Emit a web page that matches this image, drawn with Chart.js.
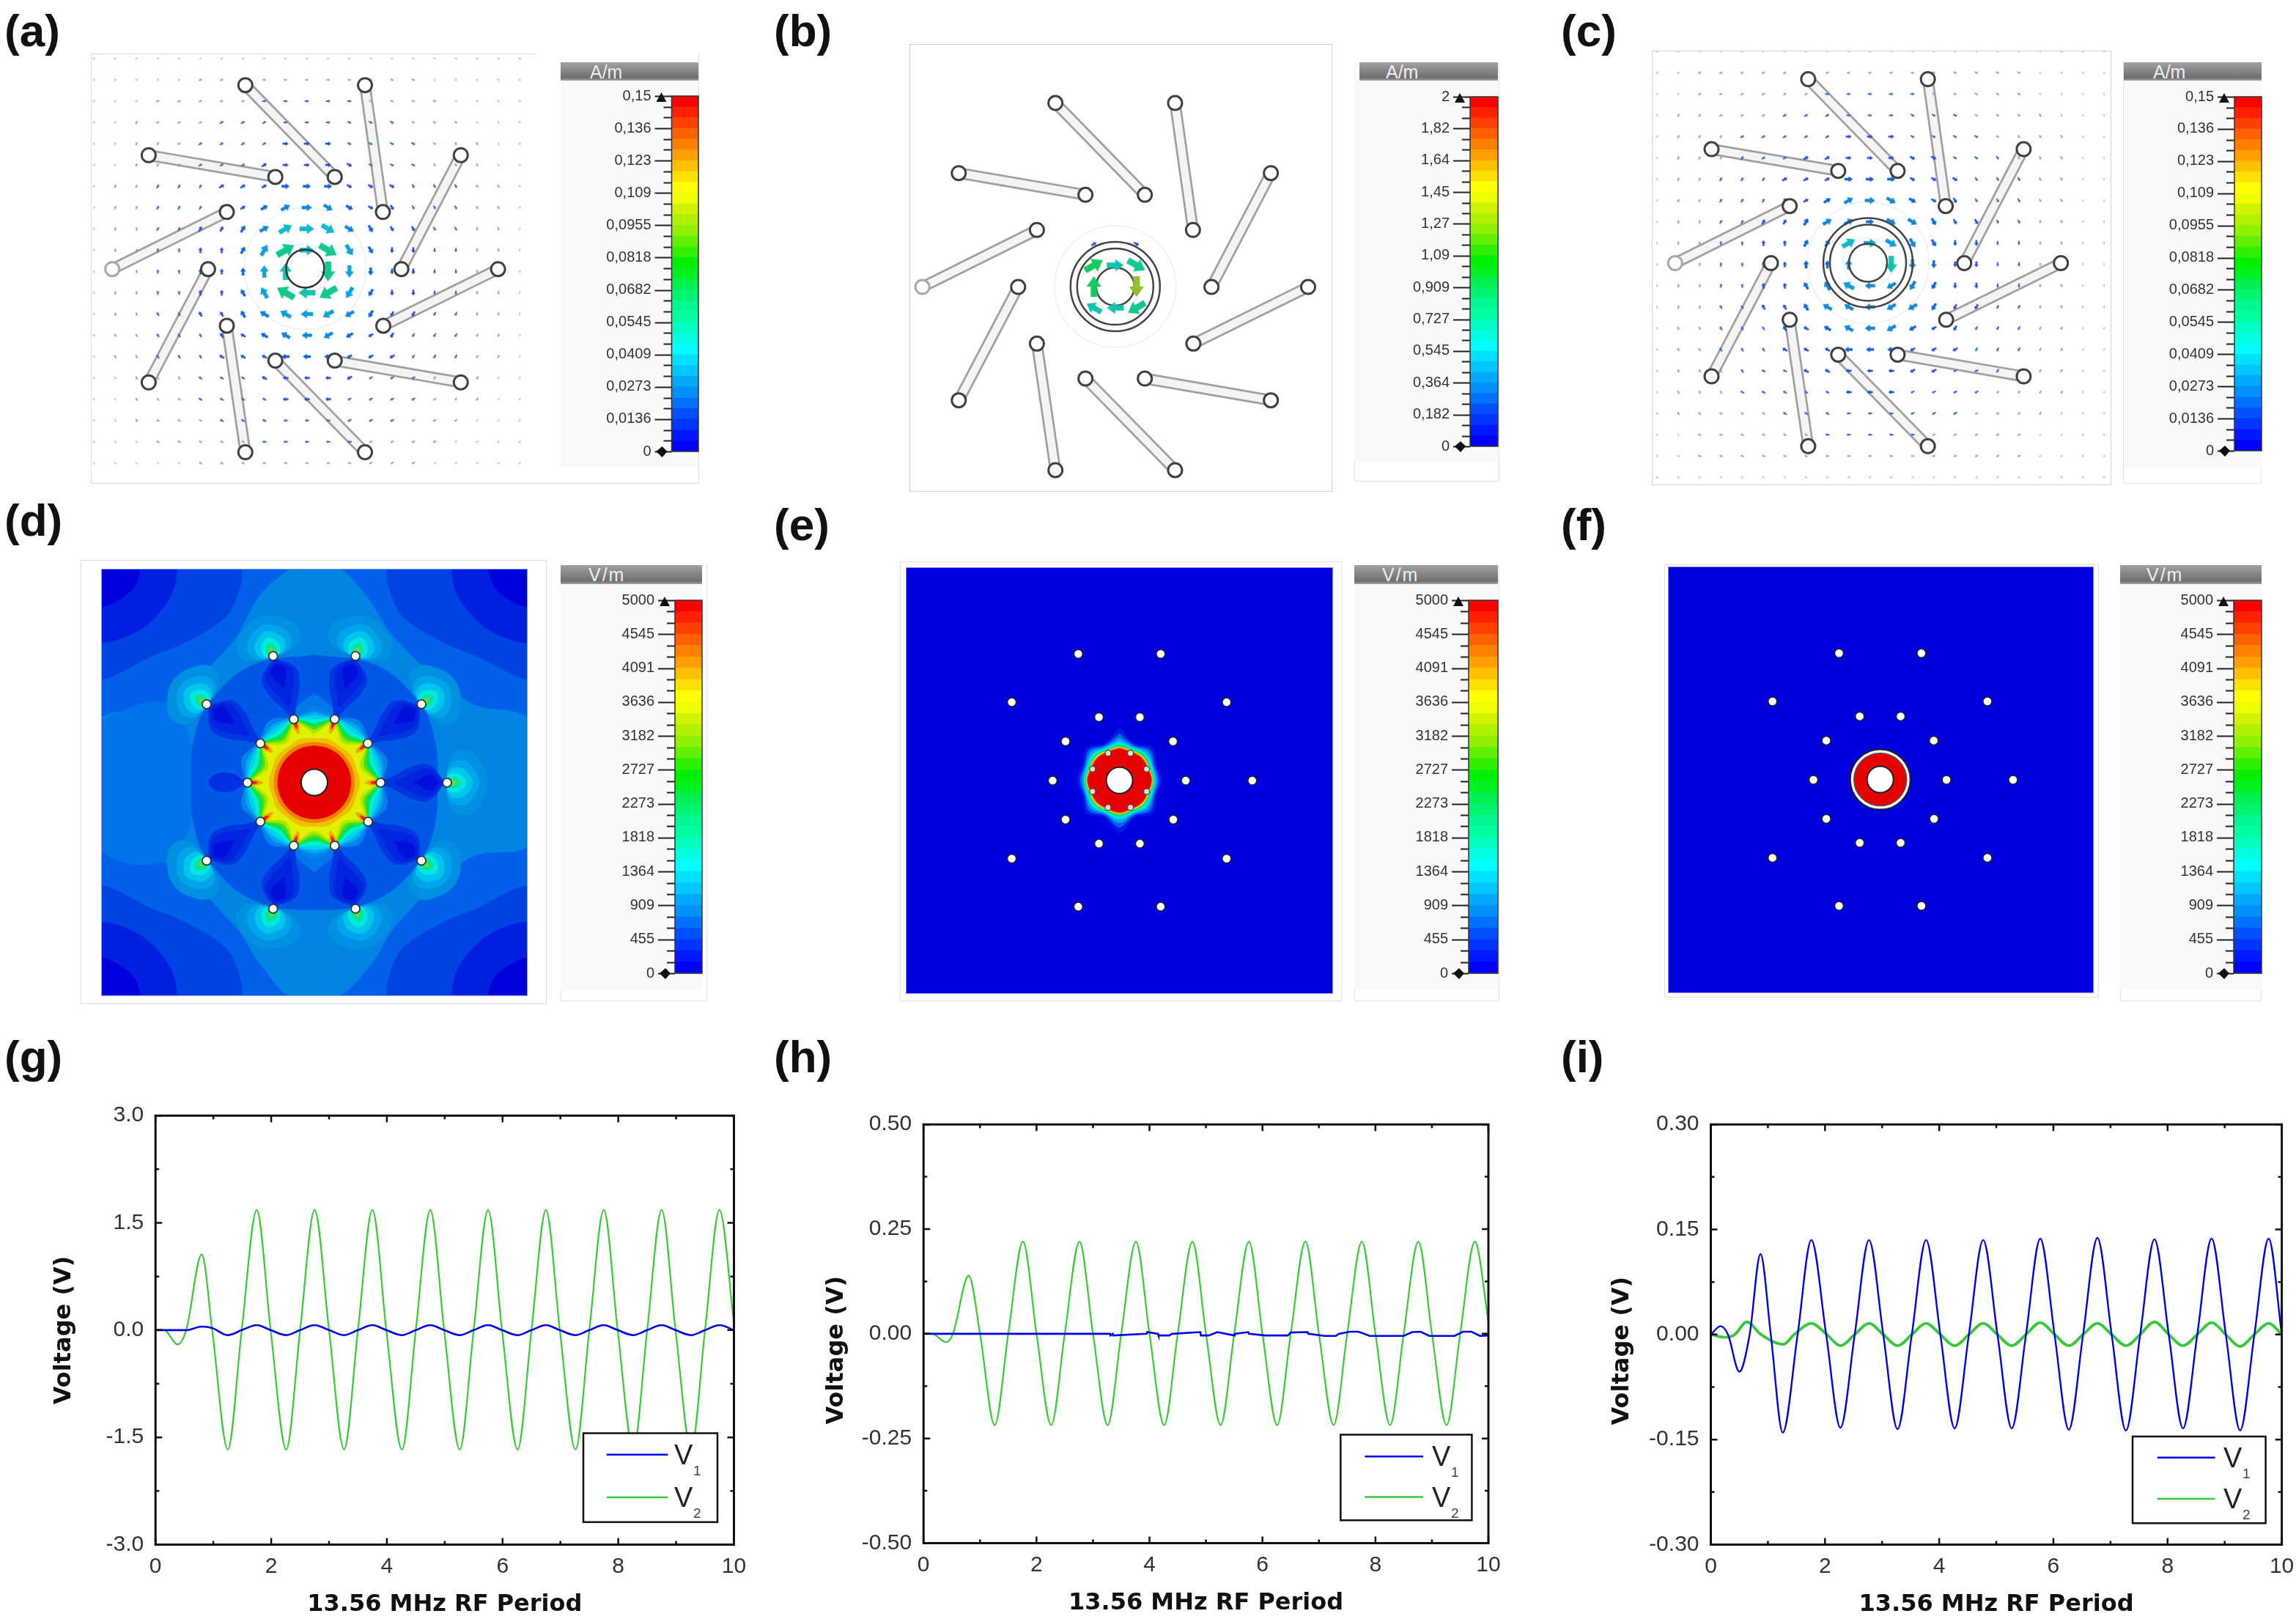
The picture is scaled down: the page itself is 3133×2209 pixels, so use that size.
<!DOCTYPE html>
<html>
<head>
<meta charset="utf-8">
<title>Field maps and voltage traces</title>
<script src="https://cdn.jsdelivr.net/npm/chart.js@4"></script>
<style>
    html, body { margin: 0; background: #fff; overflow: hidden; }
    body { position: relative; width: 3133px; height: 2209px; font-family: "Liberation Sans", Arial, sans-serif; }
    canvas { position: absolute; filter: blur(0.5px); }
    .tag { position: absolute; font: bold 62px "Liberation Sans"; color: #111; line-height: 60px; }
    .box { position: absolute; box-sizing: border-box; }
    .unit { position: absolute; box-sizing: border-box; background: linear-gradient(#a2a2a2, #6e6e6e 85%, #a8a8a8); color: #eee; font-size: 25px; line-height: 25px; }
</style>
</head>
<body>
<script>
// voltage traces
const xG = [0,0.15,0.38,0.53,0.8,0.98,1.25,1.49,1.75,1.99,2.26,2.5,2.75,3,3.26,3.5,3.75,3.99,4.26,4.5,4.75,4.99,5.26,5.5,5.75,5.99,6.26,6.5,6.75,6.99,7.26,7.5,7.75,7.99,8.26,8.5,8.75,8.99,9.26,9.5,9.75,10];
const v1G = [0,0,0,0,0.05,0.03,-0.07,0,0.07,0,-0.07,0,0.07,0,-0.07,0,0.07,0,-0.07,0,0.07,0,-0.07,0,0.07,0,-0.07,0,0.07,0,-0.07,0,0.07,0,-0.07,0,0.07,0,-0.07,0,0.07,0];
const v2G = [0,0,-0.2,0,1.06,0,-1.67,0,1.68,0,-1.67,0,1.68,0,-1.67,0,1.68,0,-1.67,0,1.68,0,-1.67,0,1.68,0,-1.67,0,1.68,0,-1.67,0,1.68,0,-1.67,0,1.68,0,-1.67,0,1.68,0.1];

const xV1H = [0,3.3,3.31,3.35,3.36,3.95,3.96,4.15,4.16,4.35,4.4,4.9,4.91,5.05,5.2,5.5,5.51,5.75,5.76,6.05,6.3,6.45,6.5,6.8,6.81,7.1,7.3,7.35,7.55,7.7,7.9,8.1,8.3,8.5,8.65,8.8,8.95,9.2,9.4,9.55,9.7,9.85,10];
const v1H = [0,0,-0.004,0,-0.004,0,0.004,0,-0.004,-0.004,0,0.004,-0.004,-0.004,0.004,-0.004,0,0.004,0,-0.004,-0.004,-0.004,0.003,0.004,0,-0.005,-0.005,0,0.005,0.005,-0.005,-0.005,-0.005,-0.005,0.004,0.005,-0.005,-0.005,-0.005,0.005,0.005,-0.005,-0.004];
const xV2H = [0,0.15,0.4,0.52,0.8,1,1.26,1.5,1.76,2,2.26,2.5,2.76,3,3.26,3.5,3.76,4,4.26,4.5,4.76,5,5.26,5.5,5.76,6,6.26,6.5,6.76,7,7.26,7.5,7.76,8,8.26,8.5,8.76,9,9.26,9.5,9.76,10];
const v2H = [0,0,-0.02,0,0.139,0,-0.218,0,0.22,0,-0.218,0,0.22,0,-0.218,0,0.22,0,-0.218,0,0.22,0,-0.218,0,0.22,0,-0.218,0,0.22,0,-0.218,0,0.22,0,-0.218,0,0.22,0,-0.218,0,0.22,0.03];

const xV1I = [0,0.17,0.3,0.5,0.68,0.87,1.05,1.26,1.52,1.76,2.02,2.27,2.52,2.77,3.02,3.27,3.52,3.77,4.02,4.27,4.52,4.77,5.02,5.27,5.52,5.77,6.02,6.27,6.52,6.77,7.02,7.27,7.52,7.77,8.02,8.27,8.52,8.77,9.02,9.27,9.52,9.77,10];
const v1I = [0,0.012,0,-0.053,0,0.115,0,-0.14,0,0.135,0,-0.133,0,0.135,0,-0.135,0,0.135,0,-0.134,0,0.135,0,-0.134,0,0.137,0,-0.136,0,0.138,0,-0.137,0,0.136,0,-0.134,0,0.137,0,-0.137,0,0.137,0];
const xV2I = [0,0.25,0.42,0.63,0.88,1.27,1.46,1.76,2.03,2.27,2.52,2.77,3.02,3.27,3.52,3.77,4.02,4.27,4.52,4.77,5.02,5.27,5.52,5.77,6.02,6.27,6.52,6.77,7.02,7.27,7.52,7.77,8.02,8.27,8.52,8.77,9.02,9.27,9.52,9.77,10];
const v2I = [0,-0.004,0,0.018,0,-0.014,0,0.016,0,-0.016,0,0.016,0,-0.016,0,0.016,0,-0.016,0,0.016,0,-0.016,0,0.017,0,-0.016,0,0.016,0,-0.016,0,0.018,0,-0.016,0,0.017,0,-0.017,0,0.016,0];

// axis ticks of the voltage plots
const xTicks = [0,1,2,3,4,5,6,7,8,9,10];
const xTickLabels = ['0','','2','','4','','6','','8','','10'];
const yTicksG = [-3,-2.25,-1.5,-0.75,0,0.75,1.5,2.25,3];
const yLabelsG = ['-3.0','','-1.5','','0.0','','1.5','','3.0'];
const yTicksH = [-0.5,-0.375,-0.25,-0.125,0,0.125,0.25,0.375,0.5];
const yLabelsH = ['-0.50','','-0.25','','0.00','','0.25','','0.50'];
const yTicksI = [-0.3,-0.225,-0.15,-0.075,0,0.075,0.15,0.225,0.3];
const yLabelsI = ['-0.30','','-0.15','','0.00','','0.15','','0.30'];

// colour scale labels and bands
const scaleLabelsA = ['0','0,0136','0,0273','0,0409','0,0545','0,0682','0,0818','0,0955','0,109','0,123','0,136','0,15'];
const scaleLabelsB = ['0','0,182','0,364','0,545','0,727','0,909','1,09','1,27','1,45','1,64','1,82','2'];
const scaleLabelsE = ['0','455','909','1364','1818','2273','2727','3182','3636','4091','4545','5000'];
const bandColors = ['#0000ff','#0018ff','#0034ff','#0050ff','#0070ff','#0090ff','#00a8ff','#00c8ff','#00e0ff','#00ffff','#00ffe0','#00ffc0','#00ffa0','#00f890','#00f470','#00f050','#00f020','#00f000','#30f000','#60f000','#90f000','#b0f000','#d0f400','#f0ff00','#ffff00','#ffe000','#ffc000','#ffa000','#ff8000','#ff6000','#ff4000','#ff2000','#ff0000'];

// rod ends, in grid cells from the coil centre
const rodOuterX = [-2.81,2.81,7.31,9.06,7.31,2.81,-2.81,-7.35,-9.06,-7.35];
const rodOuterY = [-8.62,-8.62,-5.33,0.02,5.34,8.62,8.62,5.34,0.02,-5.33];
const rodInnerX = [1.39,3.65,4.52,3.67,1.39,-1.4,-3.68,-4.56,-3.68,-1.4];
const rodInnerY = [-4.31,-2.66,0.02,2.68,4.32,4.32,2.68,0.02,-2.66,-4.31];
const pinX = [-0.78,0.75,1.85,1.85,0.75,-0.78,-1.84,-1.84];
const pinY = [-1.85,-1.85,-0.77,0.76,1.85,1.85,0.76,-0.77];

// arrow directions in 30 degree steps (base 12), one char per grid point
const arrowDirs = [
    '2222222233333444444445','1222222233333444444455','1122222233333444444555','1112222223334444445555',
    '1111222223334444455555','1111122223334444555555','1111112223334445555555','1111111222344455555555',
    '0001111122344555556666','0000000112345566666666','0000000000366666666666','0000000bba987766666666',
    '000bbbbbaa988777776666','bbbbbbbaaa988877777777','bbbbbbaaa99988877777777','bbbbbaaaa99988887777777',
    'bbbbaaaaa99988888777777','bbbaaaaaa99988888877777','bbaaaaaa999998888887777','baaaaaaa999998888888777',
    'aaaaaaaa99999888888888'
];
// arrow strength levels (base 12), '-' where the electrode hides the point
const arrowLevelsA = [
    '000000000000000000000','000001111111111100000','000111112222211110000','001111222222222111000',
    '001112222333222211100','001112223333322211100','011222333444333222110','011222334555433222110',
    '011223345777543322110','011223346979643322110','0112233468-9643322110','011223346989643322110',
    '011223345666543322110','011222334555433222110','011222333444333222110','001112223333322211100',
    '001112222333222211100','001111222222222111000','000111112222211110000','000001111111111100000'
];
const arrowLevelsC = [
    '0000000000000000000000','0011111111111111110000','0011111122222111110000','0111112222222221111000',
    '0111222223332222111100','0111222333333322211100','0112223334443332221100','0112223345554332221100',
    '0112233455455433221100','0112233447665433221100','0112233445-85433221100','0112233456555433221100',
    '0112233455555433221100','0112223345554332221100','0112223334443332221100','0111222333333322211100',
    '0111222223332222111100','0111112222222221111000','0011111122222111110000','0011111111111111110000',
    '0000000000000000000000'
];
const arrowXB = [-1,0,1,1,1,0,-1,-1,-1,1];
const arrowYB = [-1,-1,-1,0,1,1,1,0,-2,-2];
const arrowDirB = [2,3,4,6,8,9,10,0,2,4];
const arrowLevelB = [10,8,9,11,9,8,8,10,3,3];

const arrowLength = [4,5,6,8,11,14,17,20,23,27,28,28];
const arrowColor = ['#a4b8f0','#7b96ea','#3a62e0','#1c4cdc','#1064dc','#1088dc','#10a0dc','#10b8d0','#10c4b0','#10c890','#18c860','#90c030'];

// contour shapes of map (d), in cells; x,y pairs
const cornerDarkest = [[-14.8,-14.8],[-12,-14.8],[-12.3,-13.3],[-13.8,-12.2],[-14.8,-12]];
const cornerDarker = [[-14.8,-14.8],[-9.6,-14.8],[-9.8,-12.7],[-11.9,-10.4],[-14.8,-9.7]];
const cornerDark = [[-14.8,-14.8],[-5.2,-14.8],[-5.8,-11.6],[-8.7,-9.6],[-10.9,-8.7],[-14.8,-7.2]];
const crossShape = [[-1.4,-14.8],[1.3,-14.8],[3.4,-12.9],[5.7,-9.6],[10.5,-5.5],[14.8,-4],[14.8,4],[10.5,5.2],[5.7,9.6],[3.8,12.5],[1.3,14.8],[-1.4,14.8],[-3.6,12.5],[-5.6,9.6],[-10.3,5.4],[-14.8,4],[-14.8,-4],[-10.4,-5.3],[-5.8,-9.3],[-3.6,-12.9]];
const leftBand = [[-14.8,-4.2],[-10.3,-5.4],[-8.2,-2],[-8.2,2],[-10.3,5.4],[-14.8,4.2]];
const innerZone = [[0,-8.7],[4.2,-8],[7.1,-5.5],[8.2,-3],[8.4,0],[8.2,3],[7.1,5.5],[4.2,8],[0,8.7],[-4.2,8],[-7.1,5.5],[-8.2,3],[-8.4,0],[-8.2,-3],[-7.1,-5.5],[-4.2,-8]];
const bumpTop = [[0,-6.1],[1.3,-5],[1.5,-4],[-1.5,-4],[-1.3,-5]];
const bumpBottom = [[0,6.1],[1.3,5],[1.5,4],[-1.5,4],[-1.3,5]];
const leftBlob = [[-4.7,0],[-5.5,0.55],[-6.6,0.6],[-7.2,0],[-6.6,-0.6],[-5.5,-0.55]];
// lobes at the outer rods: [reach, half width, colour]
const lobeLayers = [[2.8,2.25,'#0090e2'],[2.2,1.55,'#00a4ea'],[1.75,1.05,'#00c6ec'],[1.3,0.65,'#00e8e0'],[0.95,0.36,'#14e090'],[0.6,0.16,'#60e040']];
const lobeAlong = [-0.04,0.07,0.36,0.71,1,0.71,0.36,0.07];
const lobeAcross = [0,0.75,1,0.8,0,-0.8,-1,-0.75];
// dark tears between outer and inner rods: [half width, colour, start, end]
const tearLayers = [[1.2,'#0036e2',0.03,0.98],[0.9,'#0024e0',0.06,0.8],[0.5,'#0010dc',0.12,0.5]];
const tearAlong = [0,0.25,0.5,0.8,1,0.8,0.5,0.25];
const tearAcross = [0,1,0.95,0.4,0,-0.4,-0.95,-1];
// rings around the centre of (d): [radius at gaps, radius at rods, colour]
const coreBandsD = [[5.2,4.7,'#0084ea'],[4.85,4.6,'#00a8f0'],[4.6,4.55,'#00d0f0'],[4.3,4.5,'#00f0c8'],[4,4.45,'#00e060'],[3.75,4.4,'#50e000'],[3.55,4.3,'#a8e800'],[3.3,4.15,'#e0f000'],[3,3.1,'#f0c000'],[2.75,2.75,'#f08000'],[2.5,2.5,'#e60000']];
// rings around the centre of (e): radii at 0, 22.5, 45, 67.5, 90 degrees
const coreBandsE = [[3.6,2.75,3.2,2.75,2.9,'#0018e8'],[3.2,2.6,2.95,2.6,2.7,'#0060f0'],[2.9,2.5,2.75,2.5,2.55,'#00a8f0'],[2.65,2.4,2.55,2.4,2.42,'#00e8e0'],[2.45,2.3,2.4,2.3,2.32,'#10e070'],[2.3,2.2,2.28,2.2,2.26,'#d8e800'],[2.25,2.15,2.2,2.15,2.22,'#f08000'],[2.18,2.08,2.14,2.08,2.18,'#e60000']];

const plainOptions = { responsive: false, animation: false, events: [], devicePixelRatio: 1, layout: { autoPadding: false, padding: 0 } };
const noLegend = { legend: { display: false }, tooltip: { enabled: false } };

function addCanvas(left, top, right, bottom) {
    const c = document.createElement('canvas');
    const l = Math.round(left), t = Math.round(top);
    c.width = Math.round(right) - l;
    c.height = Math.round(bottom) - t;
    c.style.left = l + 'px';
    c.style.top = t + 'px';
    document.body.appendChild(c);
    return c;
}
function addBox(l, t, w, h, css) {
    const d = document.createElement('div');
    d.className = 'box';
    d.style.cssText = `left:${l}px;top:${t}px;width:${w}px;height:${h}px;${css}`;
    document.body.appendChild(d);
    return d;
}
function addTag(text, x, y) {
    const d = document.createElement('div');
    d.className = 'tag';
    d.textContent = text;
    d.style.left = x + 'px';
    d.style.top = y + 'px';
    document.body.appendChild(d);
}

// holds the plot box where the reference has it
const pinArea = {
    id: 'pinArea',
    afterLayout(chart, args, opts) {
        const a = chart.chartArea, { x, y } = chart.scales;
        Object.assign(a, { left: opts.left, right: opts.right, top: opts.top, bottom: opts.bottom, width: opts.right - opts.left, height: opts.bottom - opts.top });
        Object.assign(y, { left: 0, right: opts.left, width: opts.left, top: opts.top, bottom: opts.bottom, height: opts.bottom - opts.top });
        Object.assign(x, { left: opts.left, right: opts.right, width: opts.right - opts.left, top: opts.bottom, bottom: chart.height, height: chart.height - opts.bottom });
        x.configure();
        y.configure();
    }
};

// frame and inward ticks of the voltage plots
const plotFrame = {
    id: 'plotFrame',
    afterDatasetsDraw(chart) {
        const { ctx, chartArea: a, scales } = chart;
        ctx.save();
        ctx.strokeStyle = '#111';
        ctx.lineWidth = 2.5;
        ctx.beginPath();
        scales.x.ticks.forEach(t => {
            const p = scales.x.getPixelForValue(t.value), len = t.label === '' ? 5 : 9;
            ctx.moveTo(p, a.bottom); ctx.lineTo(p, a.bottom - len);
            ctx.moveTo(p, a.top); ctx.lineTo(p, a.top + len);
        });
        scales.y.ticks.forEach(t => {
            const p = scales.y.getPixelForValue(t.value), len = t.label === '' ? 5 : 9;
            ctx.moveTo(a.left, p); ctx.lineTo(a.left + len, p);
            ctx.moveTo(a.right, p); ctx.lineTo(a.right - len, p);
        });
        ctx.stroke();
        ctx.lineWidth = 3;
        ctx.strokeRect(a.left, a.top, a.right - a.left, a.bottom - a.top);
        ctx.restore();
    }
};

// legend box with subscripts
const voltLegend = {
    id: 'voltLegend',
    afterDatasetsDraw(chart, args, opts) {
        const { ctx } = chart;
        const ox = opts.originX, oy = opts.originY;
        ctx.save();
        ctx.fillStyle = '#fff';
        ctx.strokeStyle = '#111';
        ctx.lineWidth = 2.5;
        ctx.fillRect(opts.left - ox, opts.top - oy, opts.right - opts.left, opts.bottom - opts.top);
        ctx.strokeRect(opts.left - ox, opts.top - oy, opts.right - opts.left, opts.bottom - opts.top);
        chart.data.datasets.forEach((ds, i) => {
            const y = opts.rowY[i] - oy;
            ctx.strokeStyle = ds.borderColor;
            ctx.lineWidth = 2.5;
            ctx.beginPath();
            ctx.moveTo(opts.sampleLeft - ox, y);
            ctx.lineTo(opts.sampleRight - ox, y);
            ctx.stroke();
            ctx.fillStyle = '#222';
            ctx.textAlign = 'left';
            ctx.textBaseline = 'alphabetic';
            ctx.font = '38px "Liberation Sans"';
            ctx.fillText('V', opts.textX - ox, y + 13);
            ctx.font = '19px "Liberation Sans"';
            ctx.fillStyle = '#444';
            ctx.fillText(ds.label.slice(1), opts.textX - ox + 26, y + 28);
        });
        ctx.restore();
    }
};

function voltagePlot(p) {
    const left = p.titleX - 19.2, bottom = Math.min(p.titleY + 19.2, 2209);
    const canvas = addCanvas(left, p.top - 20, p.right + 18, bottom);
    const cl = Math.round(left), ct = Math.round(p.top - 20);
    const line = (label, xs, ys, color, width, smooth) => ({
        label, borderColor: color, borderWidth: width, pointRadius: 0,
        cubicInterpolationMode: smooth ? 'monotone' : 'default',
        data: xs.map((x, i) => ({ x, y: ys[i] }))
    });
    const tickFont = { family: 'Liberation Sans', size: 30 };
    const titleFont = { family: 'DejaVu Sans', size: 32, weight: 'bold', lineHeight: 1.2 };
    new Chart(canvas, {
        type: 'line',
        data: { datasets: p.series.map(s => line(...s)) },
        plugins: [pinArea, plotFrame, voltLegend],
        options: {
            ...plainOptions,
            plugins: {
                ...noLegend,
                pinArea: { left: p.left - cl, right: p.right - cl, top: p.top - ct, bottom: p.bottom - ct },
                voltLegend: { ...p.legend, originX: cl, originY: ct }
            },
            scales: {
                x: {
                    type: 'linear', min: 0, max: 10,
                    grid: { display: false, drawTicks: false }, border: { display: false },
                    afterBuildTicks(s) { s.ticks = xTicks.map(value => ({ value })); },
                    ticks: { autoSkip: false, maxRotation: 0, padding: 12, color: '#333', font: tickFont, callback: (v, i) => xTickLabels[i] },
                    title: { display: true, text: '13.56 MHz RF Period', color: '#111', font: titleFont, padding: 0 }
                },
                y: {
                    min: p.yTicks[0], max: p.yTicks[p.yTicks.length - 1],
                    grid: { display: false, drawTicks: false }, border: { display: false },
                    afterBuildTicks(s) { s.ticks = p.yTicks.map(value => ({ value })); },
                    ticks: { autoSkip: false, padding: 16, color: '#333', font: tickFont, callback: (v, i) => p.yLabels[i] },
                    title: { display: true, text: p.yTitle, color: '#111', font: titleFont, padding: 0 }
                }
            }
        }
    });
}

// ticks and end marks of a colour scale
const barTicks = {
    id: 'barTicks',
    afterDatasetsDraw(chart, args, opts) {
        const { ctx, chartArea: a, scales } = chart;
        ctx.save();
        ctx.strokeStyle = '#222';
        ctx.lineWidth = 2;
        ctx.beginPath();
        scales.y.ticks.forEach(t => {
            const p = Math.round(scales.y.getPixelForValue(t.value)) + 0.5;
            ctx.moveTo(a.left, p);
            ctx.lineTo(a.left - (t.label === '' ? 11 : 23), p);
        });
        ctx.stroke();
        ctx.strokeStyle = '#333';
        ctx.lineWidth = 1.5;
        ctx.strokeRect(a.left, a.top, a.right - a.left, a.bottom - a.top);
        ctx.fillStyle = '#111';
        const mx = a.left - 14;
        ctx.beginPath();
        ctx.moveTo(mx, a.top - 5); ctx.lineTo(mx + 7, a.top + 8); ctx.lineTo(mx - 7, a.top + 8);
        ctx.closePath();
        ctx.fill();
        ctx.beginPath();
        ctx.moveTo(mx - 7, a.bottom); ctx.lineTo(mx + 1, a.bottom - 7); ctx.lineTo(mx + 8, a.bottom); ctx.lineTo(mx + 1, a.bottom + 8);
        ctx.closePath();
        ctx.fill();
        ctx.restore();
    }
};

function colorScale(p) {
    addBox(p.panelLeft, p.headTop, p.barRight - p.panelLeft, p.panelBottom - p.headTop, 'background:#f9f9f9;');
    const head = document.createElement('div');
    head.className = 'unit';
    head.textContent = p.unit;
    head.style.cssText = `left:${p.panelLeft + p.headInset}px;top:${p.headTop}px;width:${p.barRight - p.panelLeft - p.headInset}px;height:${p.headBottom - p.headTop}px;padding:1px 0 0 ${p.unitX}px;letter-spacing:${p.unitSpace}px;`;
    document.body.appendChild(head);
    const canvas = addCanvas(p.panelLeft, p.barTop - 20, p.barRight + 1, p.barBottom + 20);
    const cl = Math.round(p.panelLeft);
    new Chart(canvas, {
        type: 'bar',
        data: {
            labels: ['band'],
            datasets: bandColors.map(c => ({ data: [1], backgroundColor: c, borderWidth: 0, barPercentage: 1, categoryPercentage: 1 }))
        },
        plugins: [pinArea, barTicks],
        options: {
            ...plainOptions,
            plugins: {
                ...noLegend,
                pinArea: { left: p.barLeft - cl, right: p.barRight - cl, top: 20, bottom: 20 + p.barBottom - p.barTop }
            },
            scales: {
                x: { display: false, stacked: true },
                y: {
                    stacked: true, min: 0, max: bandColors.length,
                    grid: { display: false, drawTicks: false }, border: { display: false },
                    ticks: {
                        stepSize: 1, autoSkip: false, padding: 28, color: '#333',
                        font: { family: 'Liberation Sans', size: 20 },
                        callback: v => (v % 3 === 0 ? p.labels[v / 3] : '')
                    }
                }
            }
        }
    });
}

// a closed filled contour through the map's scales
function contour(points, color, tension = 0.4) {
    const pts = points.concat([points[0]]).map(([x, y]) => ({ x, y }));
    return { data: pts, fill: 'shape', backgroundColor: color, borderColor: color, borderWidth: 0.5, tension, pointRadius: 0 };
}
function mirrored(points, color) {
    return [[1, 1], [-1, 1], [1, -1], [-1, -1]].map(([a, b]) => contour(points.map(([x, y]) => [x * a, y * b]), color, 0.3));
}
function dots(xs, ys, radius, fillColor, edgeColor, edgeWidth) {
    return {
        data: xs.map((x, i) => ({ x, y: ys[i] })), showLine: false, pointRadius: radius,
        pointBackgroundColor: fillColor, pointBorderColor: edgeColor, pointBorderWidth: edgeWidth
    };
}
function fieldMap(p, layers) {
    const canvas = addCanvas(p.l, p.t, p.r, p.b);
    canvas.style.background = p.background || '#fff';
    if (p.edge) canvas.style.outline = p.edge;
    const n = layers.length;
    layers.forEach((ds, i) => { ds.order = n - i; });
    new Chart(canvas, {
        type: 'line',
        data: { datasets: layers },
        options: {
            ...plainOptions,
            plugins: noLegend,
            scales: {
                x: { type: 'linear', display: false, min: (p.l - p.cx) / p.cell, max: (p.r - p.cx) / p.cell },
                y: { type: 'linear', display: false, reverse: true, min: (p.t - p.cy) / p.cell, max: (p.b - p.cy) / p.cell }
            }
        }
    });
}

// vector maps
const arrowSprites = arrowLength.map((len, i) => {
    const c = document.createElement('canvas');
    c.width = c.height = len + 4;
    c.style.display = 'none';
    const g = c.getContext('2d'), m = c.width / 2, half = len / 2;
    g.fillStyle = arrowColor[i];
    g.beginPath();
    g.moveTo(m, m - half);
    g.lineTo(m + len * 0.36, m - half + len * 0.5);
    g.lineTo(m + len * 0.16, m - half + len * 0.5);
    g.lineTo(m + len * 0.16, m + half);
    g.lineTo(m - len * 0.16, m + half);
    g.lineTo(m - len * 0.16, m - half + len * 0.5);
    g.lineTo(m - len * 0.36, m - half + len * 0.5);
    g.closePath();
    g.fill();
    return c;
});
function arrows(xs, ys, dirs, levels) {
    return {
        data: xs.map((x, i) => ({ x, y: ys[i] })), showLine: false, pointRadius: 5,
        pointStyle: levels.map(l => arrowSprites[l]),
        pointRotation: dirs.map(d => d * 30),
        pointBorderWidth: 0
    };
}
function gridArrows(levelRows, ox, oy) {
    const xs = [], ys = [], dirs = [], levels = [];
    levelRows.forEach((row, r) => {
        [...row].forEach((ch, c) => {
            if (ch === '-') return;
            xs.push(c - 10 + ox);
            ys.push(r - 10 + oy);
            dirs.push(parseInt(arrowDirs[r][c], 12));
            levels.push(parseInt(ch, 12));
        });
    });
    return arrows(xs, ys, dirs, levels);
}
function rodLayers() {
    const out = [];
    rodOuterX.forEach((x, i) => {
        const seg = [{ x, y: rodOuterY[i] }, { x: rodInnerX[i], y: rodInnerY[i] }];
        out.push({ data: seg, borderColor: '#a0a0a0', borderWidth: 16, pointRadius: 0 });
        out.push({ data: seg.map(s => ({ ...s })), borderColor: '#f4f4f4', borderWidth: 10.5, pointRadius: 0 });
    });
    return out;
}
function rodEnds() {
    const edge = rodOuterX.map((x, i) => (i === 8 ? '#a8a8a8' : '#404040'));
    return [
        { ...dots(rodOuterX, rodOuterY, 9.5, '#fff', edge, 3) },
        { ...dots(rodInnerX, rodInnerY, 9.5, '#fff', '#404040', 3) }
    ];
}
function ringLayer(radii, color, width) {
    const zeros = radii.map(() => 0);
    return { ...dots(zeros, zeros, radii, 'transparent', color, width) };
}

fieldMap({ l: 126, t: 75, r: 764, b: 658, cx: 416.4, cy: 366.6, cell: 29.05 }, [
    ...rodLayers(),
    ringLayer([83, 34], '#eeeeee', 1.5),
    gridArrows(arrowLevelsA, 0.08, 0.13),
    ringLayer([26], '#333', 2.5),
    ...rodEnds()
]);
fieldMap({ l: 1243, t: 62, r: 1817, b: 670, cx: 1521.8, cy: 391, cell: 29.05 }, [
    ...rodLayers(),
    ringLayer([83, 34], '#eeeeee', 1.5),
    ringLayer([61, 52, 26], '#444', 2.5),
    arrows(arrowXB, arrowYB, arrowDirB, arrowLevelB),
    ...rodEnds()
]);
fieldMap({ l: 2256, t: 70, r: 2880, b: 660, cx: 2549, cy: 358.4, cell: 29.05 }, [
    ...rodLayers(),
    ringLayer([83, 34], '#eeeeee', 1.5),
    gridArrows(arrowLevelsC, 0.09, 0.08),
    ringLayer([61, 52, 26], '#444', 2.5),
    ...rodEnds()
]);

addBox(124, 73, 830, 587, 'border:solid #dcdcdc;border-width:0 1.5px 1.5px 1.5px;');
addBox(124, 73, 607, 2, 'border-top:1.5px solid #dcdcdc;');
addBox(1241, 60, 577, 611, 'border:1.5px solid #cfcfcf;');
addBox(2254, 69, 627, 593, 'border:1.5px solid #d4d4d4;');
addBox(1848, 85, 198, 572, 'border:solid #e2e2e2;border-width:0 1px 1px 1px;');
addBox(2897, 85, 189, 575, 'border:solid #e6e6e6;border-width:0 1px 1px 1px;');

colorScale({ panelLeft: 765, barLeft: 916.5, barRight: 953, barTop: 131, barBottom: 616, headTop: 85, headBottom: 110, panelBottom: 637, headInset: 0, unitX: 40, unitSpace: 0, unit: 'A/m', labels: scaleLabelsA });
colorScale({ panelLeft: 1848, barLeft: 2006, barRight: 2044, barTop: 132, barBottom: 609, headTop: 85, headBottom: 110, panelBottom: 630, headInset: 7, unitX: 36, unitSpace: 0, unit: 'A/m', labels: scaleLabelsB });
colorScale({ panelLeft: 2898, barLeft: 3049, barRight: 3086, barTop: 132, barBottom: 615, headTop: 85, headBottom: 110, panelBottom: 638, headInset: 0, unitX: 40, unitSpace: 0, unit: 'A/m', labels: scaleLabelsA });

// heat maps
const outerKept = rodOuterX.map((x, i) => i).filter(i => i !== 8);
const outerX = outerKept.map(i => rodOuterX[i]);
const outerY = outerKept.map(i => rodOuterY[i]);

function lobes() {
    const out = [];
    lobeLayers.forEach(([reach, width, color]) => {
        outerX.forEach((ox, i) => {
            const oy = outerY[i], len = Math.hypot(ox, oy), ux = ox / len, uy = oy / len;
            const pts = lobeAlong.map((t, k) => [ox + ux * t * reach - uy * lobeAcross[k] * width, oy + uy * t * reach + ux * lobeAcross[k] * width]);
            out.push(contour(pts, color, 0.4));
        });
    });
    return out;
}
function tears() {
    const out = [];
    tearLayers.forEach(([width, color, from, to]) => {
        outerX.forEach((ox, i) => {
            const oy = outerY[i];
            const pts = tearAlong.map((t, k) => {
                const f = 1 - 0.5 * (from + (to - from) * t), len = Math.hypot(ox, oy);
                return [ox * f - (oy / len) * tearAcross[k] * width, oy * f + (ox / len) * tearAcross[k] * width];
            });
            out.push(contour(pts, color, 0.4));
        });
    });
    return out;
}
function polarRing(angles, radii, color) {
    const pts = angles.map((a, i) => {
        const rad = a * Math.PI / 180;
        return [radii[i] * Math.sin(rad), -radii[i] * Math.cos(rad)];
    });
    return contour(pts, color, 0.35);
}
const ringAnglesD = [0,18,36,54,72,90,108,126,144,162,180,198,216,234,252,270,288,306,324,342];
const ringAnglesE = [0,22.5,45,67.5,90,112.5,135,157.5,180,202.5,225,247.5,270,292.5,315,337.5];
function spikes() {
    const out = [];
    [[1.05, 0.2, '#f0a800'], [0.7, 0.11, '#e82000']].forEach(([reach, width, color]) => {
        rodInnerX.forEach((ix, i) => {
            const iy = rodInnerY[i], len = Math.hypot(ix, iy), ux = -ix / len, uy = -iy / len;
            const pts = lobeAlong.map((t, k) => [ix + ux * t * reach - uy * lobeAcross[k] * width, iy + uy * t * reach + ux * lobeAcross[k] * width]);
            out.push(contour(pts, color, 0.3));
        });
    });
    return out;
}

fieldMap({ l: 139, t: 777, r: 719, b: 1358, cx: 428.9, cy: 1067.5, cell: 20, background: '#0060ea', edge: '1.5px solid #7f9cf5' }, [
    ...mirrored(cornerDark, '#0042e2'),
    ...mirrored(cornerDarker, '#0020e0'),
    ...mirrored(cornerDarkest, '#0000dc'),
    contour(crossShape, '#0084e4'),
    contour(leftBand, '#0074e8'),
    contour(innerZone, '#0058e6'),
    contour(bumpTop, '#0078ea'),
    contour(bumpBottom, '#0078ea'),
    ...lobes(),
    ...tears(),
    contour(leftBlob, '#0030e2'),
    ...coreBandsD.map(([gap, rod, color]) => polarRing(ringAnglesD, ringAnglesD.map((a, i) => (i % 2 ? rod : gap)), color)),
    ...spikes(),
    dots([0], [0], 18, '#fff', '#222', 2),
    dots(rodInnerX, rodInnerY, 6, '#fff', '#333', 1.8),
    dots(outerX, outerY, 6, '#fff', '#333', 1.8)
]);

fieldMap({ l: 1237, t: 775, r: 1818, b: 1355, cx: 1527.6, cy: 1064.7, cell: 20, background: '#0000dc', edge: '1.5px solid #7f84f5' }, [
    ...coreBandsE.map(b => polarRing(ringAnglesE, ringAnglesE.map((a, i) => {
        const k = i % 8;
        return b[k <= 4 ? k : 8 - k];
    }), b[5])),
    dots([0], [0], 18, '#fff', '#222', 2),
    dots(pinX, pinY, 4, '#ddd', '#444', 1.2),
    dots(rodInnerX, rodInnerY, 6, '#fff', '#222', 1.5),
    dots(outerX, outerY, 6, '#fff', '#222', 1.5)
]);

fieldMap({ l: 2277, t: 774, r: 2856, b: 1354, cx: 2565.7, cy: 1063.6, cell: 20, background: '#0000dc', edge: '1.5px solid #7f84f5' }, [
    dots([0], [0], 41, '#fff', '#222', 2),
    dots([0], [0], 36, '#e60000', '#555', 1.5),
    dots([0], [0], 18, '#fff', '#222', 2),
    dots(rodInnerX, rodInnerY, 6, '#fff', '#222', 1.5),
    dots(outerX, outerY, 6, '#fff', '#222', 1.5)
]);

addBox(110, 764, 636, 606, 'border:1.5px solid #dcdcdc;');
addBox(1228, 766, 603, 600, 'border:1.5px solid #e0e0e0;');
addBox(2271, 770, 593, 591, 'border:1.5px solid #e0e0e0;');
addBox(765, 771, 200, 595, 'border:solid #e4e4e4;border-width:0 1px 1px 1px;');
addBox(1848, 771, 198, 595, 'border:solid #e4e4e4;border-width:0 1px 1px 1px;');
addBox(2893, 771, 193, 595, 'border:solid #e4e4e4;border-width:0 1px 1px 1px;');

colorScale({ panelLeft: 765, barLeft: 921, barRight: 958, barTop: 819, barBottom: 1328, headTop: 771, headBottom: 797, panelBottom: 1352, headInset: 0, unitX: 38, unitSpace: 2, unit: 'V/m', labels: scaleLabelsE });
colorScale({ panelLeft: 1848, barLeft: 2004, barRight: 2044, barTop: 819, barBottom: 1328, headTop: 771, headBottom: 797, panelBottom: 1350, headInset: 0, unitX: 38, unitSpace: 2, unit: 'V/m', labels: scaleLabelsE });
colorScale({ panelLeft: 2893, barLeft: 3048, barRight: 3086, barTop: 819, barBottom: 1328, headTop: 771, headBottom: 797, panelBottom: 1350, headInset: 0, unitX: 36, unitSpace: 2, unit: 'V/m', labels: scaleLabelsE });

// voltage plots
const blueLine = '#0000e6', greenLine = '#38c838';
const nb = '\u00a0\u00a0\u00a0\u00a0';
voltagePlot({
    left: 212.2, right: 1001.5, top: 1522.2, bottom: 2107.5, titleX: 87.5, titleY: 2191,
    yTicks: yTicksG, yLabels: yLabelsG, yTitle: 'Voltage (V)',
    series: [['V1', xG, v1G, blueLine, 2.6, true], ['V2', xG, v2G, greenLine, 2.2, true]],
    legend: { left: 796, right: 979, top: 1955.5, bottom: 2076.8, sampleLeft: 827.7, sampleRight: 911.3, rowY: [1984.7, 2043], textX: 920 }
});
voltagePlot({
    left: 1260.2, right: 2031, top: 1534.2, bottom: 2105.5, titleX: 1141.5, titleY: 2187.5,
    yTicks: yTicksH, yLabels: yLabelsH, yTitle: 'Voltage (V)' + nb,
    series: [['V1', xV1H, v1H, blueLine, 2.6, false], ['V2', xV2H, v2H, greenLine, 2.2, true]],
    legend: { left: 1829.3, right: 2008.4, top: 1957.5, bottom: 2074.3, sampleLeft: 1862.4, sampleRight: 1942, rowY: [1987.2, 2042.6], textX: 1954 }
});
voltagePlot({
    left: 2334.5, right: 3113.6, top: 1534.2, bottom: 2107.5, titleX: 2213, titleY: 2191,
    yTicks: yTicksI, yLabels: yLabelsI, yTitle: 'Voltage (V)' + nb,
    series: [['V1', xV1I, v1I, blueLine, 2.4, true], ['V2', xV2I, v2I, greenLine, 3.8, true]],
    legend: { left: 2910, right: 3091.6, top: 1960, bottom: 2078.3, sampleLeft: 2943.7, sampleRight: 3022.5, rowY: [1988.7, 2045], textX: 3034 }
});

[['(a)', 6, 12], ['(b)', 1056, 12], ['(c)', 2130, 12], ['(d)', 6, 680], ['(e)', 1056, 686], ['(f)', 2130, 686], ['(g)', 6, 1412], ['(h)', 1056, 1412], ['(i)', 2130, 1412]]
    .forEach(([text, x, y]) => addTag(text, x, y));
</script>
</body>
</html>
